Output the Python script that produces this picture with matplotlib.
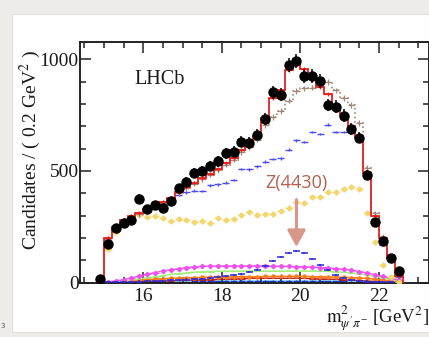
import numpy as np
import matplotlib
matplotlib.use("Agg")
import matplotlib.pyplot as plt
from matplotlib.patches import Rectangle

plt.rcParams["mathtext.fontset"] = "stix"

# Bin centres of m^2(psi' pi-) in GeV^2 (0.2 GeV^2 bins)
bin_centres = [14.9, 15.1, 15.3, 15.5, 15.7, 15.9, 16.1, 16.3, 16.5, 16.7,
               16.9, 17.1, 17.3, 17.5, 17.7, 17.9, 18.1, 18.3, 18.5, 18.7,
               18.9, 19.1, 19.3, 19.5, 19.7, 19.9, 20.1, 20.3, 20.5, 20.7,
               20.9, 21.1, 21.3, 21.5, 21.7, 21.9, 22.1, 22.3, 22.5]

# Observed candidates
data_counts = [15, 173, 246, 269, 279, 376, 328, 349, 333, 364,
               422, 452, 490, 500, 522, 543, 579, 587, 631, 625,
               663, 733, 852, 840, 973, 992, 925, 925, 903, 795,
               788, 748, 688, 649, 482, 270, 188, 109, 54]

# Total fit including Z(4430)
fit_total = [0, 199, 250, 280, 300, 312, 328, 345, 360, 380,
             405, 428, 448, 468, 488, 508, 535, 558, 595, 618,
             655, 735, 825, 860, 950, 1000, 955, 915, 875, 845,
             795, 750, 700, 650, 490, 300, 200, 110, 30]

# Fit without the Z(4430)
fit_no_z = [0, 195, 246, 276, 296, 308, 324, 341, 356, 376,
            400, 423, 443, 463, 483, 503, 528, 550, 585, 605,
            640, 705, 742, 768, 815, 858, 870, 872, 890, 898,
            860, 826, 795, 714, 513, 310, 205, 112, 30]

# Individual fit components
k_star = [0, 185, 235, 260, 292, 306, 320, 335, 352, 370,
          392, 405, 412, 410, 436, 440, 448, 460, 509, 508,
          520, 542, 553, 557, 595, 637, 630, 675, 666, 707,
          675, 675, 680, 635, 470, 260, 170, 95, 25]

nonres = [0, 150, 225, 265, 286, 302, 295, 300, 289, 276,
          283, 279, 272, 276, 268, 288, 279, 283, 301, 316,
          301, 308, 308, 323, 335, 361, 358, 383, 383, 408,
          405, 420, 428, 420, 311, 180, 79, 26, 5]

z4430 = [0, 1, 2, 3, 4, 5, 6, 7, 8, 10,
         12, 14, 16, 18, 21, 25, 29, 34, 40, 48,
         57, 75, 97, 116, 132, 143, 132, 105, 80, 57,
         36, 22, 13, 8, 5, 3, 2, 1, 0]

comp_magenta = [0, 3, 8, 14, 22, 30, 38, 45, 52, 58,
                63, 68, 71, 73, 74, 75, 75, 75, 75, 75,
                75, 74, 74, 73, 73, 72, 71, 70, 68, 66,
                63, 60, 56, 50, 44, 36, 28, 20, 12]

comp_green = [0, 2, 5, 8, 12, 17, 22, 27, 32, 37,
              41, 44, 47, 49, 50, 51, 52, 52, 52, 52,
              52, 52, 52, 52, 52, 52, 52, 52, 52, 51,
              49, 47, 44, 40, 35, 28, 22, 15, 8]

comp_orange = [0, 2, 4, 6, 9, 12, 14, 16, 18, 20,
               21, 22, 23, 24, 25, 26, 26, 27, 27, 27,
               27, 28, 28, 28, 28, 28, 28, 27, 27, 26,
               25, 24, 23, 22, 19, 15, 12, 8, 5]

comp_cyan = [0, 1, 2, 3, 4, 5, 6, 7, 8, 9,
             10, 10, 11, 11, 12, 12, 12, 12, 12, 12,
             12, 12, 12, 12, 12, 12, 12, 12, 12, 12,
             11, 11, 10, 9, 8, 6, 4, 3, 1]

comp_darkred = [0, 1, 2, 3, 4, 5, 6, 7, 8, 9,
                10, 11, 12, 13, 14, 15, 16, 17, 18, 19,
                20, 20, 20, 20, 20, 20, 19, 18, 17, 16,
                15, 14, 12, 10, 8, 6, 4, 3, 1]

comp_darkblue = [0, 0, 1, 1, 2, 2, 3, 3, 4, 4,
                 5, 5, 6, 6, 7, 7, 8, 8, 8, 8,
                 8, 8, 8, 8, 8, 8, 8, 8, 7, 7,
                 6, 6, 5, 4, 3, 3, 2, 1, 0]

x_major = [16, 18, 20, 22]
y_major = [0, 500, 1000]

centres = np.array(bin_centres)
edges = np.append(centres - 0.1, centres[-1] + 0.1)

# ---------------------------------------------------------------- figure
fig = plt.figure(figsize=(4.29, 3.37), dpi=100)
fig.patch.set_facecolor("#eeece9")
panel = Rectangle((12 / 429, 1 - 332 / 337), 1 - 12 / 429, (332 - 14) / 337,
                  transform=fig.transFigure, facecolor="white",
                  edgecolor="#e2e0dd", lw=0.8, zorder=-10)
fig.patches.append(panel)
fig.text(0.0, 1 - 326 / 337, "3", fontsize=5, color="#555555",
         family="DejaVu Sans", ha="left", va="center")

ax = fig.add_axes([80 / 429, 1 - 282.7 / 337, 348.5 / 429, (282.7 - 42) / 337])
ax.set_zorder(1)
ax.set_facecolor("white")

serif = "Liberation Serif"

# cyan filled component
ax.fill_between(centres, comp_cyan, step="mid", color="#9ff3f0", lw=0, zorder=1)

xe = 0.09
ax.errorbar(centres, comp_darkblue, xerr=xe, yerr=2, fmt="none",
            ecolor="#1f2fd0", elinewidth=1.0, zorder=2)
ax.errorbar(centres, comp_darkred, xerr=xe, fmt="-", color="#b0202a",
            lw=0.9, elinewidth=0.8, zorder=2)
ax.errorbar(centres, comp_orange, xerr=xe, fmt="-o", ms=2.2, color="#ff7a1a",
            lw=1.0, elinewidth=0.8, zorder=2)
ax.errorbar(centres, comp_green, xerr=xe, fmt="-", color="#9ff07a",
            lw=1.0, elinewidth=0.8, zorder=2)
ax.errorbar(centres, comp_magenta, xerr=xe, fmt="-D", ms=2.2, color="#f050f0",
            lw=1.0, elinewidth=0.8, zorder=2)

# Z(4430) component
ax.errorbar(centres, z4430, xerr=xe, yerr=5, fmt="none", ecolor="#2a2ad8",
            elinewidth=1.1, zorder=3)

# non-resonant / other component
ax.errorbar(centres, nonres, xerr=xe, yerr=6, fmt="D", ms=2.6, color="#f3d66c",
            ecolor="#f3d66c", elinewidth=1.0, zorder=3)

# K* component
ax.errorbar(centres, k_star, xerr=xe, yerr=6, fmt="none", ecolor="#4b4bf5",
            elinewidth=1.0, zorder=3)

# fit without Z(4430)
ax.stairs(fit_no_z, edges, color="#a08777", ls=":", lw=1.2, zorder=4)
ax.errorbar(centres, fit_no_z, xerr=xe, yerr=12, fmt="none", ecolor="#a08777",
            elinewidth=0.9, zorder=4)

# total fit
ax.stairs(fit_total, edges, color="#e8201c", lw=1.3, zorder=5)
ax.errorbar(centres, fit_total, xerr=xe, yerr=8, fmt="none", ecolor="#e8201c",
            elinewidth=0.9, zorder=5)

# data points with Poisson uncertainties
counts = np.array(data_counts)
ax.errorbar(centres, counts, yerr=np.sqrt(counts), fmt="o", ms=6.5, color="black",
            ecolor="black", elinewidth=1.1, zorder=6)

# ---------------------------------------------------------------- axes style
ax.set_xlim(14.39, 23.26)
ax.set_ylim(0, 1077)
ax.set_xticks(x_major)
ax.set_xticks(np.arange(14.5, 23.3, 0.5), minor=True)
ax.set_yticks(y_major)
ax.set_yticks(np.arange(0, 1077, 100), minor=True)
ax.tick_params(which="both", direction="in", top=True, right=True, width=1.1,
               colors="#222222")
ax.tick_params(which="major", length=8)
ax.tick_params(which="minor", length=4)
ax.tick_params(axis="x", pad=4)
ax.tick_params(axis="y", pad=1)
for lab in ax.get_xticklabels() + ax.get_yticklabels():
    lab.set_fontfamily(serif)
    lab.set_fontsize(14)
    lab.set_color("#1a1a1a")
for sp in ax.spines.values():
    sp.set_linewidth(1.4)
    sp.set_color("#222222")

ax.text(16.41, 907, "LHCb", fontsize=14.5, family=serif, ha="center",
        va="center", color="#1a1a1a")

fig.text(30 / 429, 1 - 150 / 337, "Candidates / ( 0.2 GeV$^{2}$ )", rotation=90,
         fontsize=14, family=serif, ha="center", va="center", color="#1a1a1a")
fig.text(429 / 429, 1 - 334 / 337, r"$\mathrm{m}^{2}_{\psi^{\prime}\pi^{-}}$ [GeV$^{2}$]",
         fontsize=13.5, family=serif, ha="right", va="bottom", color="#1a1a1a")

# Z(4430) annotation
ax.text(19.9, 446, "Z(4430)", fontsize=13, family="Open Sans", color="#b8604e",
        ha="center", va="center", zorder=8)
ax.annotate("", xy=(19.9, 160), xytext=(19.9, 372),
            arrowprops=dict(arrowstyle="-|>,head_length=1.0,head_width=0.55",
                            color="#d9978a", lw=2.2, shrinkA=0, shrinkB=0),
            zorder=8)

fig.savefig("out.png", dpi=100, facecolor=fig.get_facecolor())
